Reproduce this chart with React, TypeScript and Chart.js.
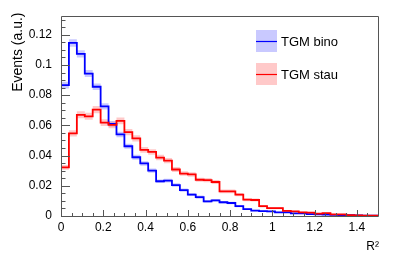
import React, { useEffect, useRef } from "react";
import { Chart, registerables } from "chart.js";

Chart.register(...registerables);

// ---- data ----
const X_MIN = 0;
const X_MAX = 1.5;
const BIN_WIDTH = 0.0375; // 40 bins over [0, 1.5]

const binoValues = [
  0.0867, 0.1146, 0.1074, 0.0943, 0.0856, 0.0726, 0.061, 0.054, 0.0462, 0.0389,
  0.0348, 0.03, 0.023, 0.0234, 0.0205, 0.0171, 0.0142, 0.0125, 0.0097, 0.0104,
  0.0091, 0.0086, 0.0065, 0.0045, 0.0036, 0.0032, 0.003, 0.0024, 0.0024, 0.0017,
  0.0017, 0.0012, 0.0011, 0.0009, 0.0008, 0.0006, 0.0005, 0.0004, 0.0003, 0.0002,
];
const binoErrors = [
  0.0022, 0.0025, 0.0024, 0.0023, 0.0022, 0.002, 0.0019, 0.0018, 0.0017, 0.0016,
  0.0015, 0.0014, 0.0012, 0.0012, 0.0012, 0.0011, 0.001, 0.001, 0.0009, 0.0009,
  0.0008, 0.0008, 0.0007, 0.0006, 0.0005, 0.0005, 0.0005, 0.0004, 0.0004, 0.0003,
  0.0003, 0.0003, 0.0003, 0.0003, 0.0002, 0.0002, 0.0002, 0.0002, 0.0001, 0.0001,
];
const stauValues = [
  0.0322, 0.0547, 0.067, 0.066, 0.0705, 0.0618, 0.0603, 0.063, 0.0555, 0.0514,
  0.0438, 0.0424, 0.0387, 0.0367, 0.0308, 0.0281, 0.0275, 0.024, 0.0238, 0.0225,
  0.0163, 0.0163, 0.0142, 0.0108, 0.0106, 0.0065, 0.0052, 0.0052, 0.0034, 0.003,
  0.0024, 0.0022, 0.0016, 0.0019, 0.0011, 0.0011, 0.0006, 0.0004, 0.0003, 0.0003,
];
const stauErrors = [
  0.0016, 0.0021, 0.0023, 0.0023, 0.0024, 0.0022, 0.0022, 0.0022, 0.0021, 0.002,
  0.0019, 0.0018, 0.0018, 0.0017, 0.0016, 0.0015, 0.0015, 0.0014, 0.0014, 0.0013,
  0.0012, 0.0012, 0.0011, 0.001, 0.001, 0.0008, 0.0007, 0.0007, 0.0006, 0.0005,
  0.0005, 0.0005, 0.0004, 0.0004, 0.0003, 0.0003, 0.0002, 0.0002, 0.0002, 0.0002,
];
const seriesNames = ["TGM bino", "TGM stau"];
const xTickValues = [0, 0.2, 0.4, 0.6, 0.8, 1, 1.2, 1.4];
const yTickValues = [0, 0.02, 0.04, 0.06, 0.08, 0.1, 0.12];
const Y_MAX = 0.1323;
const xTitle = "R\u00B2";
const yTitle = "Events (a.u.)";

const BLUE = "#0000ff";
const RED = "#ff0000";
const BLUE_BAND = "rgba(120,120,255,0.40)";
const RED_BAND = "rgba(255,120,120,0.40)";
const FONT = "'Liberation Sans', Arial, Helvetica, sans-serif";

function stepPoints(vals: number[]) {
  const pts = vals.map((v, i) => ({ x: X_MIN + i * BIN_WIDTH, y: v }));
  pts.push({ x: X_MAX, y: vals[vals.length - 1] });
  return pts;
}

const fmt = (v: number) => String(+Number(v).toFixed(3));

const rootPlugin = {
  id: "rootStyle",
  afterDraw(chart: any) {
    const { ctx, chartArea, scales } = chart;
    const { left, right, top, bottom } = chartArea;
    const xs = scales.x;
    const ys = scales.y;
    ctx.save();
    // frame
    ctx.strokeStyle = "#555";
    ctx.lineWidth = 1;
    ctx.beginPath();
    ctx.rect(Math.round(left) + 0.5, Math.round(top) + 0.5, Math.round(right - left), Math.round(bottom - top));
    ctx.stroke();
    // ticks
    ctx.beginPath();
    for (let i = 0; i * 0.005 <= Y_MAX + 1e-9; i++) {
      const y = Math.round(ys.getPixelForValue(i * 0.005)) + 0.5;
      const len = i % 4 === 0 ? 9 : 4.5;
      ctx.moveTo(left, y);
      ctx.lineTo(left + len, y);
    }
    for (let i = 0; i * 0.05 <= X_MAX + 1e-9; i++) {
      const x = Math.round(xs.getPixelForValue(i * 0.05)) + 0.5;
      const len = i % 4 === 0 ? 6 : 3;
      ctx.moveTo(x, bottom);
      ctx.lineTo(x, bottom - len);
    }
    ctx.stroke();

    // axis titles
    ctx.fillStyle = "#000";
    ctx.font = `12px ${FONT}`;
    ctx.textAlign = "right";
    ctx.textBaseline = "alphabetic";
    ctx.fillText(xTitle, 379, 250);
    ctx.save();
    ctx.translate(22, 12.5);
    ctx.rotate(-Math.PI / 2);
    ctx.font = `14px ${FONT}`;
    ctx.textAlign = "right";
    ctx.fillText(yTitle, 0, 0);
    ctx.restore();

    // legend
    const entries = [
      { name: seriesNames[0], band: BLUE_BAND, line: BLUE, cy: 41 },
      { name: seriesNames[1], band: RED_BAND, line: RED, cy: 74 },
    ];
    ctx.font = `13px ${FONT}`;
    ctx.textAlign = "left";
    ctx.textBaseline = "middle";
    for (const e of entries) {
      ctx.fillStyle = e.band;
      ctx.fillRect(256, e.cy - 11, 21, 22);
      ctx.strokeStyle = e.line;
      ctx.lineWidth = 1.2;
      ctx.beginPath();
      ctx.moveTo(256, e.cy + 0.5);
      ctx.lineTo(277, e.cy + 0.5);
      ctx.stroke();
      ctx.fillStyle = "#000";
      ctx.fillText(e.name, 281, e.cy + 1);
    }
    ctx.restore();
  },
};

export default function App() {
  const canvasRef = useRef<HTMLCanvasElement | null>(null);

  useEffect(() => {
    document.body.style.margin = "0";
    const canvas = canvasRef.current;
    if (!canvas) return;

    const band = (vals: number[], errs: number[], sign: number) =>
      stepPoints(vals.map((v, i) => Math.max(0, v + sign * errs[i])));

    const chart = new Chart(canvas, {
      type: "line",
      data: {
        datasets: [
          { label: "bino lo", data: band(binoValues, binoErrors, -1), borderWidth: 0, pointRadius: 0, stepped: "before", fill: false, order: 3 } as any,
          { label: "bino hi", data: band(binoValues, binoErrors, 1), borderWidth: 0, pointRadius: 0, stepped: "before", fill: "-1", backgroundColor: BLUE_BAND, order: 3 } as any,
          { label: "stau lo", data: band(stauValues, stauErrors, -1), borderWidth: 0, pointRadius: 0, stepped: "before", fill: false, order: 2 } as any,
          { label: "stau hi", data: band(stauValues, stauErrors, 1), borderWidth: 0, pointRadius: 0, stepped: "before", fill: "-1", backgroundColor: RED_BAND, order: 2 } as any,
          { label: seriesNames[0], data: stepPoints(binoValues), borderColor: BLUE, borderWidth: 1.8, pointRadius: 0, stepped: "before", fill: false, order: 1 } as any,
          { label: seriesNames[1], data: stepPoints(stauValues), borderColor: RED, borderWidth: 1.8, pointRadius: 0, stepped: "before", fill: false, order: 0 } as any,
        ],
      },
      options: {
        responsive: false,
        animation: false,
        devicePixelRatio: 1,
        layout: { padding: { left: 0, top: 12, right: 21, bottom: 0 } },
        plugins: { legend: { display: false }, tooltip: { enabled: false } },
        elements: { line: { borderJoinStyle: "miter", borderCapStyle: "butt" } },
        scales: {
          x: {
            type: "linear",
            min: X_MIN,
            max: X_MAX,
            grid: { display: false, drawTicks: false },
            border: { display: false },
            afterBuildTicks: (s: any) => { s.ticks = xTickValues.map((v) => ({ value: v })); },
            afterFit: (s: any) => { s.height = 39; },
            ticks: {
              autoSkip: false,
              maxRotation: 0,
              padding: 4,
              color: "#000",
              font: { family: FONT, size: 12 },
              callback: (v: any) => fmt(v),
            },
          },
          y: {
            type: "linear",
            min: 0,
            max: Y_MAX,
            grid: { display: false, drawTicks: false },
            border: { display: false },
            afterBuildTicks: (s: any) => { s.ticks = yTickValues.map((v) => ({ value: v })); },
            afterFit: (s: any) => { s.width = 61; },
            ticks: {
              autoSkip: false,
              padding: 9,
              color: "#000",
              font: { family: FONT, size: 12 },
              callback: (v: any) => fmt(v),
            },
          },
        },
      } as any,
      plugins: [rootPlugin],
    });
    return () => chart.destroy();
  }, []);

  return (
    <div style={{ width: 399, height: 255, background: "#fff" }}>
      <canvas ref={canvasRef} width={399} height={255} style={{ width: 399, height: 255, display: "block" }} />
    </div>
  );
}
